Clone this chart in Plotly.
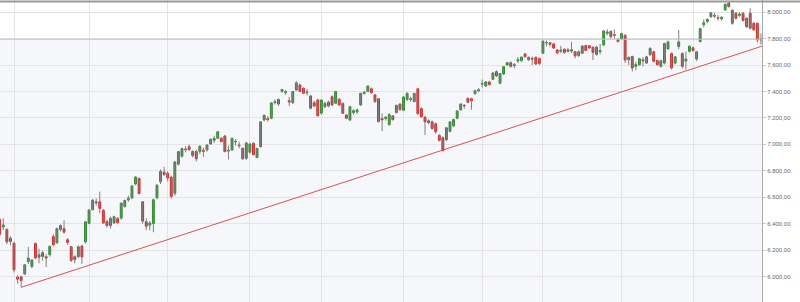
import pandas as pd
import plotly.graph_objects as go

# ---------------- data (DAX daily, 28 May 2012 - 28 Mar 2013) ----------------
first_day = "2012-05-28"
last_day = "2013-03-28"
exchange_holidays = ["2012-12-24", "2012-12-25", "2012-12-26", "2012-12-31", "2013-01-01"]

opens = [6430, 6375, 6355, 6290, 6252, 5995, 5998, 6020, 6112, 6075,
         6250, 6145, 6180, 6150, 6165, 6302, 6255, 6356, 6362, 6278,
         6225, 6150, 6150, 6230, 6262, 6402, 6505, 6565, 6565, 6500,
         6415, 6385, 6405, 6438, 6442, 6530, 6580, 6595, 6700, 6742,
         6565, 6414, 6388, 6400, 6595, 6718, 6790, 6780, 6752, 6630,
         6850, 6910, 6965, 6982, 6945, 6945, 6945, 6955, 6958, 7003,
         7030, 7046, 7046, 7063, 6955, 6957, 7018, 6995, 6970, 6895,
         6940, 7008, 6900, 6982, 7184, 7195, 7197, 7315, 7340, 7400,
         7390, 7330, 7315, 7411, 7449, 7424, 7390, 7366, 7315, 7336,
         7236, 7285, 7290, 7360, 7311, 7341, 7310, 7222, 7184, 7240,
         7245, 7298, 7385, 7400, 7420, 7374, 7345, 7195, 7195, 7150,
         7215, 7240, 7305, 7258, 7338, 7345, 7323, 7420, 7270, 7205,
         7178, 7170, 7155, 7068, 7050, 7035, 7098, 7140, 7197, 7260,
         7295, 7348, 7345, 7382, 7405, 7455, 7441, 7472, 7492, 7550,
         7462, 7532, 7600, 7618, 7595, 7630, 7633, 7684, 7640, 7650,
         7658, 7650, 7689, 7770, 7768, 7760, 7714, 7705, 7720, 7715,
         7705, 7701, 7672, 7689, 7748, 7745, 7735, 7680, 7700, 7752,
         7840, 7855, 7830, 7795, 7800, 7825, 7640, 7665, 7590, 7602,
         7640, 7615, 7678, 7700, 7635, 7590, 7615, 7722, 7688, 7615,
         7740, 7688, 7630, 7703, 7730, 7645, 7778, 7905, 7930, 7966,
         7975, 7960, 7950, 8017, 8070, 7916, 7992, 7975, 7992, 7954,
         7992, 7916, 7916, 7790]

highs = [6445, 6440, 6365, 6305, 6262, 6010, 6005, 6095, 6225, 6132,
         6256, 6210, 6195, 6168, 6235, 6320, 6370, 6395, 6425, 6290,
         6230, 6160, 6235, 6240, 6420, 6510, 6585, 6590, 6642, 6510,
         6430, 6452, 6460, 6450, 6560, 6582, 6612, 6690, 6760, 6748,
         6570, 6440, 6420, 6590, 6700, 6810, 6830, 6795, 6762, 6875,
         6950, 6975, 6985, 7000, 6955, 6960, 6995, 6975, 7000, 7045,
         7065, 7100, 7055, 7070, 6990, 7050, 7040, 7020, 6975, 7020,
         7010, 7015, 6975, 7175, 7225, 7215, 7320, 7340, 7345, 7420,
         7410, 7360, 7402, 7478, 7460, 7430, 7420, 7370, 7330, 7345,
         7340, 7320, 7330, 7370, 7405, 7350, 7315, 7230, 7290, 7265,
         7270, 7390, 7400, 7445, 7430, 7378, 7350, 7235, 7215, 7235,
         7220, 7300, 7310, 7365, 7395, 7360, 7390, 7428, 7280, 7215,
         7190, 7180, 7165, 7075, 7060, 7130, 7175, 7195, 7258, 7310,
         7305, 7355, 7352, 7412, 7425, 7490, 7478, 7478, 7545, 7560,
         7540, 7592, 7625, 7628, 7615, 7660, 7665, 7690, 7665, 7665,
         7665, 7655, 7790, 7785, 7775, 7765, 7720, 7745, 7725, 7730,
         7775, 7705, 7710, 7748, 7752, 7750, 7740, 7745, 7760, 7865,
         7870, 7860, 7870, 7800, 7845, 7835, 7665, 7670, 7625, 7655,
         7660, 7670, 7735, 7708, 7640, 7640, 7770, 7785, 7695, 7668,
         7865, 7695, 7700, 7748, 7740, 7705, 7882, 7945, 7955, 8000,
         7995, 7980, 7968, 8065, 8075, 8020, 8000, 8000, 8000, 7960,
         8030, 7925, 7920, 7840]

lows = [6300, 6350, 6245, 6235, 6030, 5945, 5918, 6010, 6095, 6062,
        6130, 6100, 6120, 6072, 6150, 6228, 6248, 6340, 6325, 6240,
        6110, 6100, 6140, 6095, 6250, 6395, 6500, 6535, 6478, 6398,
        6370, 6362, 6398, 6395, 6430, 6520, 6565, 6585, 6690, 6620,
        6400, 6350, 6350, 6335, 6585, 6700, 6760, 6720, 6590, 6610,
        6840, 6900, 6940, 6950, 6900, 6870, 6925, 6905, 6945, 6995,
        7010, 7040, 7015, 6940, 6887, 6950, 6990, 6970, 6885, 6880,
        6930, 6915, 6895, 6975, 7175, 7170, 7190, 7300, 7290, 7390,
        7375, 7290, 7305, 7405, 7395, 7380, 7370, 7265, 7280, 7210,
        7225, 7275, 7280, 7290, 7305, 7290, 7230, 7190, 7175, 7225,
        7230, 7290, 7375, 7395, 7385, 7315, 7165, 7100, 7180, 7140,
        7180, 7235, 7255, 7250, 7330, 7320, 7318, 7225, 7200, 7070,
        7150, 7110, 7080, 7020, 6945, 7025, 7090, 7130, 7190, 7255,
        7270, 7310, 7262, 7378, 7395, 7430, 7435, 7445, 7488, 7510,
        7455, 7525, 7595, 7580, 7575, 7615, 7625, 7655, 7630, 7600,
        7600, 7600, 7685, 7740, 7740, 7720, 7680, 7690, 7685, 7695,
        7690, 7650, 7660, 7685, 7705, 7720, 7638, 7670, 7680, 7745,
        7825, 7800, 7800, 7770, 7790, 7615, 7600, 7550, 7560, 7595,
        7590, 7608, 7670, 7620, 7595, 7580, 7605, 7715, 7565, 7605,
        7720, 7575, 7565, 7695, 7700, 7630, 7770, 7885, 7915, 7955,
        7955, 7935, 7935, 8010, 8035, 7905, 7945, 7965, 7930, 7880,
        7870, 7860, 7770, 7755]

closes = [6320, 6390, 6262, 6265, 6050, 5980, 5969, 6088, 6140, 6125,
          6141, 6165, 6152, 6140, 6228, 6240, 6362, 6385, 6335, 6258,
          6122, 6128, 6225, 6148, 6414, 6503, 6578, 6558, 6515, 6405,
          6385, 6440, 6452, 6408, 6555, 6575, 6592, 6685, 6752, 6628,
          6419, 6380, 6405, 6580, 6690, 6795, 6772, 6745, 6606, 6866,
          6945, 6968, 6960, 6960, 6915, 6890, 6985, 6948, 6995, 7038,
          7045, 7095, 7020, 6945, 6950, 7046, 7022, 6990, 6890, 7010,
          7003, 6922, 6968, 7170, 7220, 7188, 7313, 7322, 7305, 7415,
          7398, 7320, 7399, 7465, 7400, 7386, 7395, 7273, 7290, 7216,
          7335, 7310, 7320, 7298, 7399, 7298, 7235, 7197, 7285, 7255,
          7260, 7386, 7395, 7441, 7390, 7323, 7172, 7185, 7205, 7225,
          7187, 7295, 7262, 7358, 7385, 7340, 7385, 7232, 7208, 7170,
          7165, 7120, 7095, 7030, 6952, 7125, 7170, 7188, 7252, 7305,
          7292, 7318, 7330, 7406, 7412, 7460, 7472, 7452, 7540, 7518,
          7535, 7588, 7618, 7590, 7602, 7640, 7660, 7663, 7658, 7645,
          7608, 7612, 7779, 7768, 7756, 7728, 7692, 7712, 7695, 7705,
          7715, 7669, 7700, 7744, 7710, 7730, 7695, 7735, 7710, 7858,
          7850, 7815, 7825, 7778, 7838, 7638, 7658, 7578, 7605, 7648,
          7632, 7662, 7725, 7628, 7602, 7632, 7762, 7775, 7578, 7662,
          7775, 7590, 7645, 7742, 7710, 7700, 7875, 7920, 7945, 7995,
          7970, 7955, 7962, 8060, 8042, 8015, 7954, 7985, 7936, 7890,
          7878, 7866, 7790, 7795]

# trend line drawn on the chart (support line from the June 2012 low)
trend_dates = ["2012-06-05", "2013-03-28"]
trend_values = [5918, 7740]

y_ticks = [6000, 6200, 6400, 6600, 6800, 7000, 7200, 7400, 7600, 7800, 8000]
y_tick_labels = ["6.000,00", "6.200,00", "6.400,00", "6.600,00", "6.800,00", "7.000,00",
                 "7.200,00", "7.400,00", "7.600,00", "7.800,00", "8.000,00"]

# ---------------- build ----------------
dates = [d for d in pd.bdate_range(first_day, last_day) if d.strftime("%Y-%m-%d") not in exchange_holidays]
n = len(dates)
assert n == len(opens) == len(highs) == len(lows) == len(closes)
xs = list(range(n))
date_str = [d.strftime("%Y-%m-%d") for d in dates]

# month starts -> vertical grid lines
month_idx = [i for i in range(1, n) if dates[i].month != dates[i - 1].month]

X_MIN, X_MAX = 0.08, 213.3
Y_MIN, Y_MAX = 5807, 8092

GREEN = "#2f8a2f"
RED = "#cf2a2a"
WICK = "#808080"

fig = go.Figure()

# wicks
wx, wy = [], []
for i in xs:
    wx += [i, i, None]
    wy += [lows[i], highs[i], None]
fig.add_trace(go.Scatter(x=wx, y=wy, mode="lines", line=dict(color=WICK, width=1),
                         hoverinfo="skip", showlegend=False))

# bodies
body_hi = [max(o, c) for o, c in zip(opens, closes)]
body_lo = [min(o, c) for o, c in zip(opens, closes)]
fig.add_trace(go.Candlestick(
    x=xs, open=opens, high=body_hi, low=body_lo, close=closes,
    increasing=dict(line=dict(color=GREEN, width=1), fillcolor=GREEN),
    decreasing=dict(line=dict(color=RED, width=1), fillcolor=RED),
    whiskerwidth=0, showlegend=False, text=date_str))

# trend line, extended to the right edge
t0 = date_str.index(trend_dates[0])
t1 = date_str.index(trend_dates[1])
slope = (trend_values[1] - trend_values[0]) / (t1 - t0)
fig.add_trace(go.Scatter(x=[t0, X_MAX], y=[trend_values[0], trend_values[0] + slope * (X_MAX - t0)],
                         mode="lines", line=dict(color="#d9534f", width=1),
                         hoverinfo="skip", showlegend=False))

last_price = closes[-1]
shapes = [
    # light tint below the last price
    dict(type="rect", xref="paper", yref="y", x0=0, x1=1, y0=Y_MIN, y1=last_price,
         fillcolor="#f5f7fa", line=dict(width=0), layer="below"),
    # last price line
    dict(type="line", xref="paper", yref="y", x0=0, x1=1, y0=last_price, y1=last_price,
         line=dict(color="#b9c4cd", width=1), layer="above"),
    # top border
    dict(type="line", xref="paper", yref="paper", x0=0, x1=800 / 762, y0=1 - 1.5 / 302, y1=1 - 1.5 / 302,
         line=dict(color="#9a9a9a", width=2)),
]

fig.update_layout(
    width=800, height=302,
    margin=dict(l=0, r=38, t=0, b=0),
    paper_bgcolor="#ffffff", plot_bgcolor="#ffffff",
    boxgap=0.25,
    showlegend=False,
    shapes=shapes,
    xaxis=dict(range=[X_MIN, X_MAX], tickvals=month_idx, showticklabels=False, ticks="",
               showgrid=True, gridcolor="#e4e4e4", gridwidth=1, zeroline=False,
               showline=False, rangeslider=dict(visible=False), fixedrange=True),
    yaxis=dict(range=[Y_MIN, Y_MAX], side="right", tickvals=y_ticks, ticktext=y_tick_labels,
               tickfont=dict(family="Liberation Sans, Arial, sans-serif", size=6, color="#666666"),
               showgrid=True, gridcolor="#e4e4e4", gridwidth=1, zeroline=False,
               showline=True, linecolor="#a8a8a8", linewidth=1,
               ticks="outside", ticklen=3, tickcolor="#c8c8c8", fixedrange=True),
)

fig.write_html("out.html")
